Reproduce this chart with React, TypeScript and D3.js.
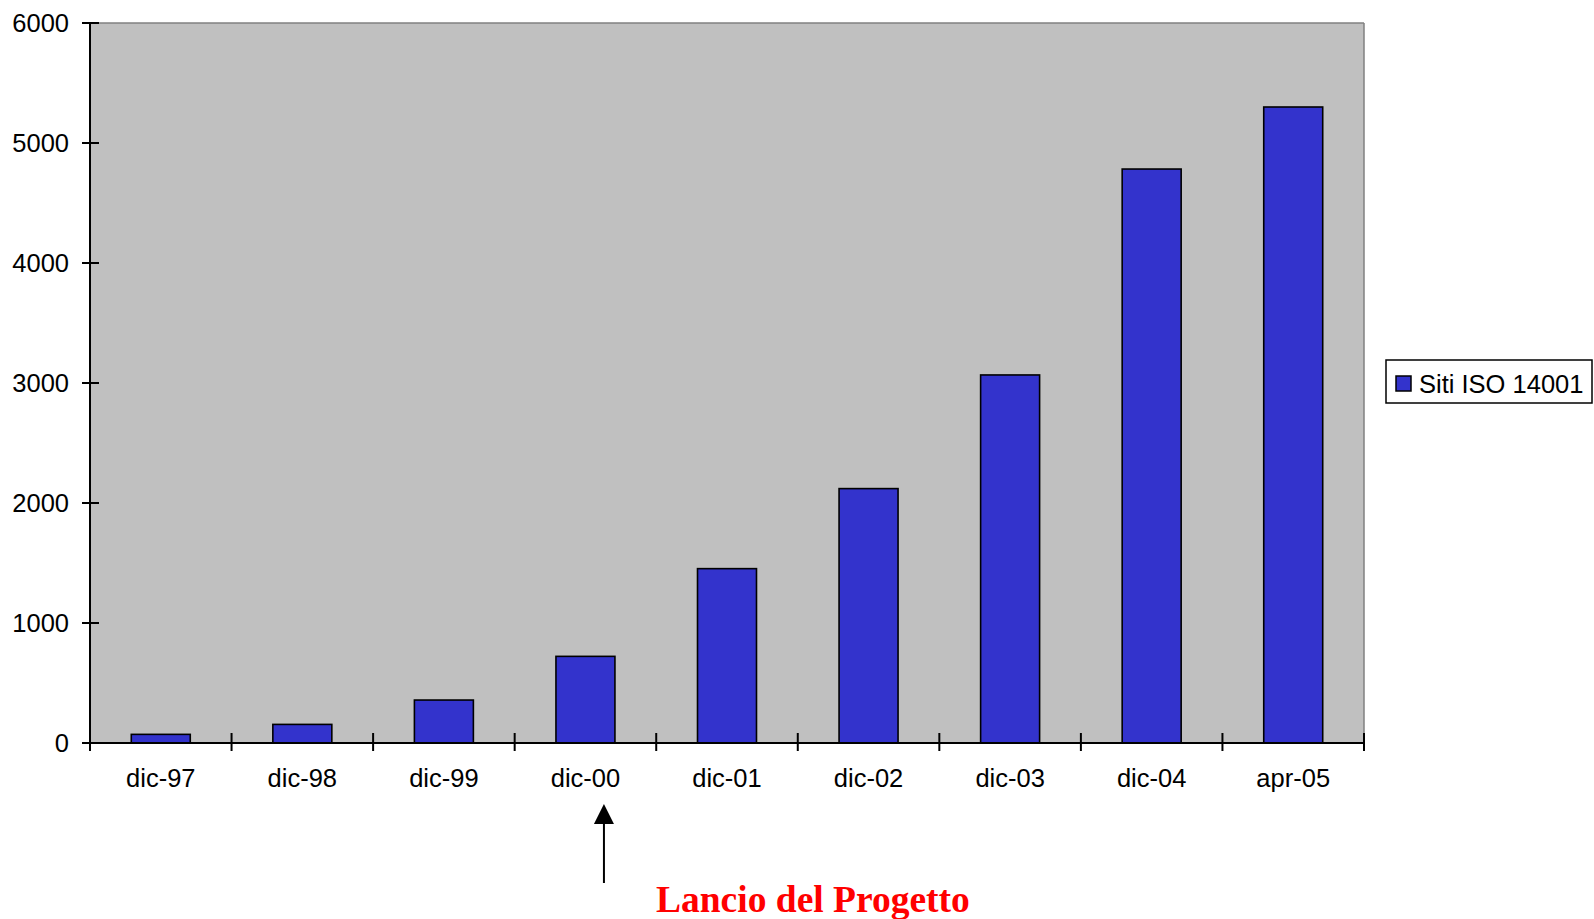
import React from "react";
import * as d3 from "d3";

const categories = ["dic-97", "dic-98", "dic-99", "dic-00", "dic-01", "dic-02", "dic-03", "dic-04", "apr-05"];
const values = [72, 155, 358, 722, 1453, 2120, 3067, 4783, 5300];
const yTicks = [0, 1000, 2000, 3000, 4000, 5000, 6000];
const seriesName = "Siti ISO 14001";
const annotation = "Lancio del Progetto";

const W = 1594;
const H = 919;
const left = 90;
const right = 1364;
const top = 23;
const bottom = 743;

export default function App() {
  const x = d3.scaleBand<string>().domain(categories).range([left, right]).padding(0);
  const y = d3.scaleLinear().domain([0, 6000]).range([bottom, top]);
  const bw = x.bandwidth();
  const barW = bw / 2.4;
  const sans = "'Liberation Sans', Arial, sans-serif";
  const fs = 25.5;
  const boundaries = d3.range(categories.length + 1).map((i) => left + i * bw);
  const arrowX = (x("dic-00") as number) + bw / 2 + 18.5;

  return (
    <svg width={W} height={H} style={{ position: "absolute", left: 0, top: 0, background: "#fff" }}>
      <rect x={left} y={top} width={right - left} height={bottom - top} fill="#C0C0C0" />
      <line x1={left} y1={top} x2={right} y2={top} stroke="#808080" strokeWidth={1.5} />
      <line x1={right} y1={top} x2={right} y2={bottom} stroke="#808080" strokeWidth={1.5} />
      {categories.map((c, i) => (
        <rect
          key={c}
          x={(x(c) as number) + (bw - barW) / 2}
          y={y(values[i])}
          width={barW}
          height={bottom - y(values[i])}
          fill="#3333CC"
          stroke="#000"
          strokeWidth={1.6}
        />
      ))}
      {/* axes */}
      <line x1={left} y1={top} x2={left} y2={bottom} stroke="#000" strokeWidth={2} />
      <line x1={left} y1={bottom} x2={right} y2={bottom} stroke="#000" strokeWidth={2} />
      {yTicks.map((t) => (
        <g key={t}>
          <line x1={82} x2={99} y1={y(t)} y2={y(t)} stroke="#000" strokeWidth={2} />
          <text x={69} y={y(t)} dy="0.35em" textAnchor="end" fontFamily={sans} fontSize={fs} fill="#000">
            {t}
          </text>
        </g>
      ))}
      {boundaries.map((bx, i) => (
        <line key={i} x1={bx} x2={bx} y1={bottom - 10} y2={bottom + 8} stroke="#000" strokeWidth={2} />
      ))}
      {categories.map((c) => (
        <text
          key={c}
          x={(x(c) as number) + bw / 2}
          y={787}
          textAnchor="middle"
          fontFamily={sans}
          fontSize={fs}
          fill="#000"
        >
          {c}
        </text>
      ))}
      {/* legend */}
      <rect x={1386} y={360} width={206} height={43} fill="#fff" stroke="#000" strokeWidth={1.5} />
      <rect x={1396} y={376} width={15} height={15} fill="#3333CC" stroke="#000" strokeWidth={1.5} />
      <text x={1419} y={392.5} fontFamily={sans} fontSize={fs} fill="#000">
        {seriesName}
      </text>
      {/* annotation arrow */}
      <line x1={arrowX} x2={arrowX} y1={822} y2={883} stroke="#000" strokeWidth={2} />
      <path d={`M${arrowX},804 L${arrowX - 10},824 L${arrowX + 10},824 Z`} fill="#000" />
      <text
        x={656}
        y={912}
        fontFamily="'Liberation Serif', 'Times New Roman', serif"
        fontWeight="bold"
        fontSize={37.5}
        fill="#FF0000"
      >
        {annotation}
      </text>
    </svg>
  );
}
